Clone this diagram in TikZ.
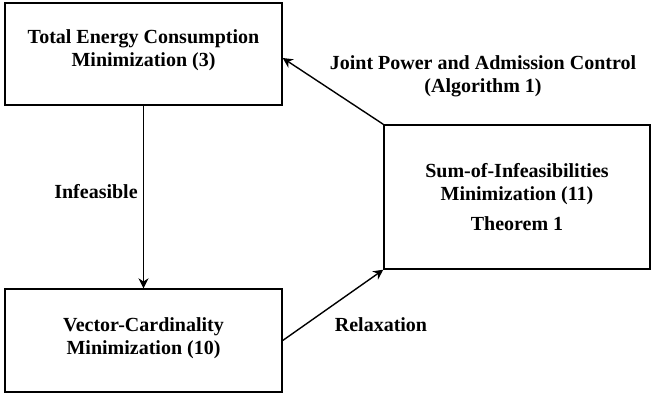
\documentclass[tikz,border=0pt]{standalone}
\usepackage{fontspec}
\setmainfont{Liberation Serif}
\usetikzlibrary{arrows.meta, positioning}

\tikzset{
  probbox/.style={rectangle, draw, line width=0.7pt, align=center,
                  font=\bfseries\fontsize{10}{11.5}\selectfont, inner sep=0pt},
  edgelabel/.style={align=center, font=\bfseries\fontsize{10}{11.5}\selectfont},
  flow/.style={-{Stealth[length=5pt,width=5pt]}, line width=0.7pt}
}

\begin{document}
\begin{tikzpicture}[x=0.5pt, y=-0.5pt]
\useasboundingbox (0,0) rectangle (667,396);
% the three problems
\node[probbox, minimum width=138.5pt, minimum height=51pt] (energy) at (143.5,54)
  {Total Energy Consumption\\Minimization (3)\\[-5.5pt]};
\node[probbox, minimum width=138.5pt, minimum height=51.5pt] (vector) at (143.5,340.5)
  {Vector-Cardinality\\Minimization (10)\\[-7pt]};
\node[probbox, minimum width=133pt, minimum height=72pt] (soi) at (517,197)
  {Sum-of-Infeasibilities\\Minimization (11)\\[3.5pt]Theorem 1};
% connectors
\draw[flow] (energy.south) -- (vector.north);
\draw[flow] (vector.east) -- (soi.south west);
\draw[flow] (soi.north west) -- ([yshift=-2pt]energy.east);
% labels
\node[edgelabel] (infeas) at (96,192) {Infeasible};
\node[edgelabel] (relax) at (381,325) {Relaxation};
\node[edgelabel] (jpac) at (483,76) {Joint Power and Admission Control\\(Algorithm 1)};
\end{tikzpicture}
\end{document}
